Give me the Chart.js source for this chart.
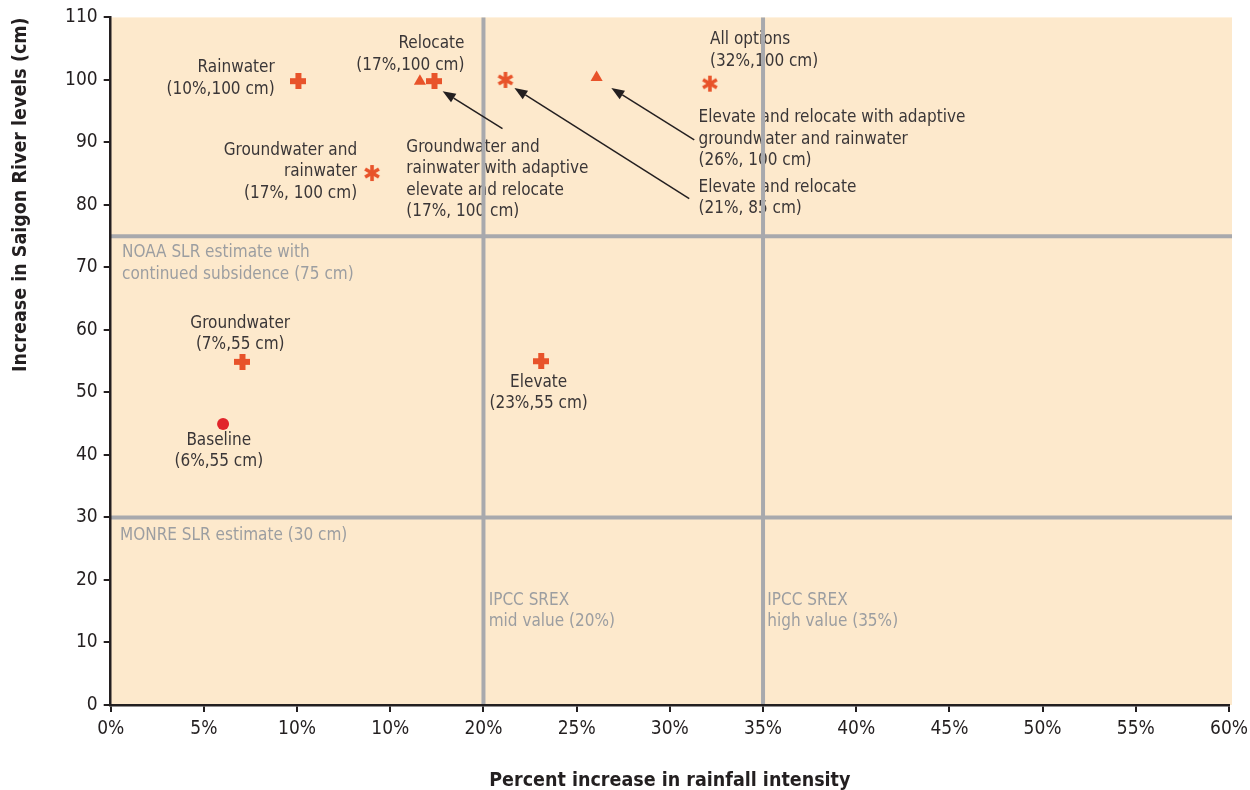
<!DOCTYPE html>
<html>
<head>
<meta charset="utf-8">
<script src="https://cdn.jsdelivr.net/npm/chart.js@4.4.1/dist/chart.umd.min.js"></script>
<style>
  html, body { margin: 0; padding: 0; background: #ffffff; }
  #wrap { width: 1250px; height: 790px; position: relative; }
</style>
</head>
<body>
<div id="wrap"><canvas id="chart"></canvas></div>
<script>
// ---- data ----
const xTickLabels = ['0%', '5%', '10%', '10%', '20%', '25%', '30%', '35%', '40%', '45%', '50%', '55%', '60%'];

// plus markers: Rainwater, Relocate, Groundwater, Elevate
const plusX = [10.07, 17.37, 7.07, 23.1];
const plusY = [99.8, 99.8, 54.9, 55];
// asterisks: Elevate and relocate, All options, Groundwater and rainwater
const starX = [21.18, 32.15, 14.02];
const starY = [100, 99.4, 85.1];
// triangles: GW+RW with adaptive, Elevate/relocate with adaptive
const triangleX = [16.59, 26.07];
const triangleY = [99.8, 100.4];
// baseline circle
const baselineX = [6.03];
const baselineY = [44.95];

// reference lines (IPCC SREX, NOAA / MONRE SLR)
const refLinesX = [20, 35];
const refLinesY = [75, 30];

// ---- styling ----
const FONT = "'DejaVu Sans Condensed', 'Liberation Sans Narrow', Roboto, sans-serif";
const COLORS = {
  bg: '#fde9cc',
  marker: '#e8532a',
  baseline: '#e1252b',
  ref: '#a8a9ad',
  refText: '#9c9ea1',
  text: '#3a3637',
  axis: '#231f20'
};

// text annotations, anchored in data units
const LABELS = [
  { x: 8.80, y: 101.9, align: 'right', lines: ['Rainwater', '(10%,100 cm)'] },
  { x: 18.98, y: 105.75, align: 'right', lines: ['Relocate', '(17%,100 cm)'] },
  { x: 13.22, y: 88.67, align: 'right', lines: ['Groundwater and', 'rainwater', '(17%, 100 cm)'] },
  { x: 15.86, y: 89.14, align: 'left', lines: ['Groundwater and', 'rainwater with adaptive', 'elevate and relocate', '(17%, 100 cm)'] },
  { x: 32.16, y: 106.38, align: 'left', lines: ['All options', '(32%,100 cm)'] },
  { x: 31.54, y: 93.92, align: 'left', lines: ['Elevate and relocate with adaptive', 'groundwater and rainwater', '(26%, 100 cm)'] },
  { x: 31.54, y: 82.78, align: 'left', lines: ['Elevate and relocate', '(21%, 85 cm)'] },
  { x: 6.95, y: 61.02, align: 'center', lines: ['Groundwater', '(7%,55 cm)'] },
  { x: 22.96, y: 51.58, align: 'center', lines: ['Elevate', '(23%,55 cm)'] },
  { x: 5.80, y: 42.34, align: 'center', lines: ['Baseline', '(6%,55 cm)'] },
  { x: 0.605, y: 72.32, align: 'left', gray: true, lines: ['NOAA SLR estimate with', 'continued subsidence (75 cm)'] },
  { x: 0.50, y: 27.06, align: 'left', gray: true, lines: ['MONRE SLR estimate (30 cm)'] },
  { x: 20.28, y: 16.71, align: 'left', gray: true, lines: ['IPCC SREX', 'mid value (20%)'] },
  { x: 35.23, y: 16.71, align: 'left', gray: true, lines: ['IPCC SREX', 'high value (35%)'] }
];

// arrows: from label (tail) to marker (head), data units
const ARROWS = [
  { x1: 21.02, y1: 92.2, x2: 17.81, y2: 98.2 },
  { x1: 31.04, y1: 81.0, x2: 21.66, y2: 98.7 },
  { x1: 31.31, y1: 90.4, x2: 26.86, y2: 98.7 }
];

// ---- custom marker images ----
function makePlus() {
  const c = document.createElement('canvas');
  c.width = 16; c.height = 16;
  const g = c.getContext('2d');
  g.fillStyle = COLORS.marker;
  g.fillRect(5, 0, 6, 16);
  g.fillRect(0, 5, 16, 6);
  return c;
}

function makeStar() {
  const c = document.createElement('canvas');
  c.width = 18; c.height = 18;
  const g = c.getContext('2d');
  g.strokeStyle = COLORS.marker;
  g.lineWidth = 3.6;
  g.translate(9, 9);
  [90, 30, 150].forEach(a => {
    const r = a * Math.PI / 180;
    g.beginPath();
    g.moveTo(-Math.cos(r) * 8, -Math.sin(r) * 8);
    g.lineTo(Math.cos(r) * 8, Math.sin(r) * 8);
    g.stroke();
  });
  return c;
}

const toPts = (xs, ys) => xs.map((x, i) => ({ x, y: ys[i] }));

const decorPlugin = {
  id: 'decor',
  beforeDraw(chart) {
    const { ctx, chartArea: a, scales: { x, y } } = chart;
    ctx.save();
    ctx.fillStyle = COLORS.bg;
    ctx.fillRect(a.left, a.top, a.right - a.left + 3, a.bottom - a.top);

    // annotation texts
    ctx.font = '17px ' + FONT;
    ctx.textBaseline = 'middle';
    LABELS.forEach(l => {
      ctx.fillStyle = l.gray ? COLORS.refText : COLORS.text;
      ctx.textAlign = l.align;
      const px = x.getPixelForValue(l.x);
      const py = y.getPixelForValue(l.y);
      l.lines.forEach((t, i) => ctx.fillText(t, px, py + i * 21.2));
    });

    // reference lines
    ctx.strokeStyle = COLORS.ref;
    ctx.lineWidth = 4;
    refLinesX.forEach(v => {
      const px = x.getPixelForValue(v);
      ctx.beginPath();
      ctx.moveTo(px, a.top);
      ctx.lineTo(px, a.bottom);
      ctx.stroke();
    });
    refLinesY.forEach(v => {
      const py = y.getPixelForValue(v);
      ctx.beginPath();
      ctx.moveTo(a.left, py);
      ctx.lineTo(a.right + 3, py);
      ctx.stroke();
    });
    ctx.restore();
  },
  afterDatasetsDraw(chart) {
    const { ctx, scales: { x, y } } = chart;
    ctx.save();
    ctx.strokeStyle = COLORS.axis;
    ctx.fillStyle = COLORS.axis;
    ctx.lineWidth = 1.5;
    ARROWS.forEach(ar => {
      const x1 = x.getPixelForValue(ar.x1), y1 = y.getPixelForValue(ar.y1);
      const x2 = x.getPixelForValue(ar.x2), y2 = y.getPixelForValue(ar.y2);
      const ang = Math.atan2(y2 - y1, x2 - x1);
      const len = 13, hw = 5;
      const bx = x2 - Math.cos(ang) * len, by = y2 - Math.sin(ang) * len;
      ctx.beginPath();
      ctx.moveTo(x1, y1);
      ctx.lineTo(bx, by);
      ctx.stroke();
      ctx.beginPath();
      ctx.moveTo(x2, y2);
      ctx.lineTo(bx + Math.sin(ang) * hw, by - Math.cos(ang) * hw);
      ctx.lineTo(bx - Math.sin(ang) * hw, by + Math.cos(ang) * hw);
      ctx.closePath();
      ctx.fill();
    });
    ctx.restore();
  }
};

Chart.defaults.font.family = FONT;
Chart.defaults.color = COLORS.axis;

new Chart(document.getElementById('chart'), {
  type: 'scatter',
  data: {
    datasets: [
      { label: 'Plus', data: toPts(plusX, plusY), pointStyle: makePlus(), pointRadius: 8 },
      { label: 'Star', data: toPts(starX, starY), pointStyle: makeStar(), pointRadius: 9 },
      {
        label: 'Triangle', data: toPts(triangleX, triangleY), pointStyle: 'triangle',
        pointRadius: 7, pointBackgroundColor: COLORS.marker, pointBorderWidth: 0
      },
      {
        label: 'Baseline', data: toPts(baselineX, baselineY), pointStyle: 'circle',
        pointRadius: 6, pointBackgroundColor: COLORS.baseline, pointBorderWidth: 0
      }
    ]
  },
  options: {
    responsive: true,
    maintainAspectRatio: false,
    animation: false,
    events: [],
    layout: { padding: { left: 0, top: 14, right: 21, bottom: 0 } },
    plugins: {
      legend: { display: false },
      tooltip: { enabled: false }
    },
    scales: {
      x: {
        type: 'linear',
        min: 0,
        max: 60,
        afterFit: s => { s.height = 85; s.paddingRight = 0; s.paddingLeft = 0; },
        border: { display: true, color: COLORS.axis, width: 2.5 },
        grid: { drawOnChartArea: false, drawTicks: true, tickLength: 7, color: COLORS.axis, lineWidth: 2 },
        ticks: {
          stepSize: 5,
          autoSkip: false,
          maxRotation: 0,
          padding: 6,
          color: COLORS.axis,
          font: { size: 19 },
          callback: (v, i) => xTickLabels[i]
        },
        title: {
          display: true,
          text: 'Percent increase in rainfall intensity',
          color: COLORS.axis,
          font: { size: 19.5, weight: 'bold' },
          padding: { top: 0, bottom: -3 }
        }
      },
      y: {
        type: 'linear',
        min: 0,
        max: 110,
        afterFit: s => { s.width = 110.7; },
        border: { display: true, color: COLORS.axis, width: 2.5 },
        grid: { drawOnChartArea: false, drawTicks: true, tickLength: 7, color: COLORS.axis, lineWidth: 2 },
        ticks: {
          stepSize: 10,
          padding: 6,
          color: COLORS.axis,
          font: { size: 19 }
        },
        title: {
          display: true,
          text: 'Increase in Saigon River levels (cm)',
          align: 'end',
          color: COLORS.axis,
          font: { size: 19.5, weight: 'bold' },
          padding: { top: 9, bottom: 0 }
        }
      }
    }
  },
  plugins: [decorPlugin]
});
</script>
</body>
</html>
